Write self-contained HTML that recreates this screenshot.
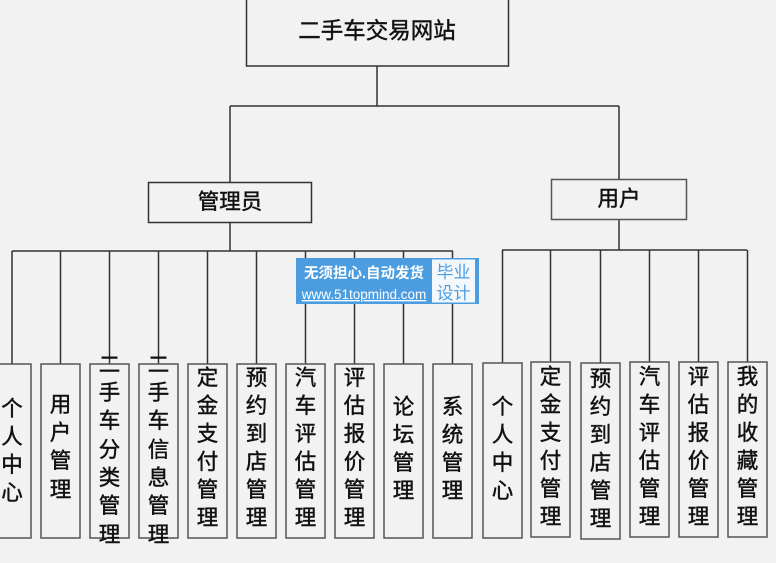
<!DOCTYPE html>
<html><head><meta charset="utf-8"><style>
html,body{margin:0;padding:0;background:#f2f2f2;}
svg{display:block;}
.t{font-family:"Liberation Sans","Noto Sans CJK SC",sans-serif;fill:#111;stroke:#111;stroke-width:0.45;}
</style></head><body>
<svg width="776" height="563" viewBox="0 0 776 563" xmlns="http://www.w3.org/2000/svg">
<rect width="776" height="563" fill="#f2f2f2"/>
<g fill="none" stroke="#333" stroke-width="1.5">
<line x1="377" y1="66" x2="377" y2="106"/>
<line x1="230" y1="106" x2="619" y2="106"/>
<line x1="230" y1="106" x2="230" y2="182"/>
<line x1="619" y1="106" x2="619" y2="179"/>
<line x1="230" y1="223" x2="230" y2="251"/>
<line x1="12" y1="251" x2="453" y2="251"/>
<line x1="12" y1="251" x2="12" y2="364"/>
<line x1="60.5" y1="251" x2="60.5" y2="364"/>
<line x1="109.5" y1="251" x2="109.5" y2="364"/>
<line x1="158.5" y1="251" x2="158.5" y2="364"/>
<line x1="207.5" y1="251" x2="207.5" y2="364"/>
<line x1="256.5" y1="251" x2="256.5" y2="364"/>
<line x1="305.5" y1="251" x2="305.5" y2="364"/>
<line x1="354.5" y1="251" x2="354.5" y2="364"/>
<line x1="403.5" y1="251" x2="403.5" y2="364"/>
<line x1="452.5" y1="251" x2="452.5" y2="364"/>
<line x1="619" y1="220" x2="619" y2="250"/>
<line x1="502" y1="250" x2="747" y2="250"/>
<line x1="502.5" y1="250" x2="502.5" y2="363"/>
<line x1="550.5" y1="250" x2="550.5" y2="362"/>
<line x1="600.5" y1="250" x2="600.5" y2="363"/>
<line x1="649.5" y1="250" x2="649.5" y2="362"/>
<line x1="698.5" y1="250" x2="698.5" y2="362"/>
<line x1="747.5" y1="250" x2="747.5" y2="362"/>
</g>
<g fill="#f2f2f2" stroke="#555" stroke-width="1.5">
<rect x="246.5" y="-2" width="262" height="68" stroke="#333"/>
<rect x="148.5" y="182.5" width="163" height="40" stroke="#333"/>
<rect x="551.5" y="179.5" width="135" height="40"/>
<rect x="-7.5" y="364" width="38.5" height="174"/>
<rect x="41" y="364" width="39" height="174"/>
<rect x="90" y="364" width="39" height="174"/>
<rect x="139" y="364" width="39" height="174"/>
<rect x="188" y="364" width="39" height="174"/>
<rect x="237" y="364" width="39" height="174"/>
<rect x="286" y="364" width="39" height="174"/>
<rect x="335" y="364" width="39" height="174"/>
<rect x="384" y="364" width="39" height="174"/>
<rect x="433" y="364" width="39" height="174"/>
<rect x="483" y="363" width="39" height="175"/>
<rect x="531" y="362" width="39" height="175"/>
<rect x="581" y="363" width="39" height="176"/>
<rect x="630" y="362" width="39" height="175"/>
<rect x="679" y="362" width="39" height="175"/>
<rect x="728" y="362" width="39" height="175"/>
</g>
<g class="t" text-anchor="middle" dominant-baseline="central">
<text x="377" y="31" font-size="22.5">二手车交易网站</text>
<text x="230" y="202" font-size="21.5">管理员</text>
<text x="619" y="199" font-size="21.5">用户</text>
</g>
<g class="t" text-anchor="middle" dominant-baseline="central" font-size="21.5">
<text><tspan x="12" y="409">个</tspan><tspan x="12" y="437">人</tspan><tspan x="12" y="465">中</tspan><tspan x="12" y="493">心</tspan></text>
<text><tspan x="60.5" y="405">用</tspan><tspan x="60.5" y="433">户</tspan><tspan x="60.5" y="461">管</tspan><tspan x="60.5" y="490">理</tspan></text>
<text><tspan x="109.5" y="365">二</tspan><tspan x="109.5" y="393">手</tspan><tspan x="109.5" y="421">车</tspan><tspan x="109.5" y="450">分</tspan><tspan x="109.5" y="478">类</tspan><tspan x="109.5" y="506">管</tspan><tspan x="109.5" y="535">理</tspan></text>
<text><tspan x="158.5" y="365">二</tspan><tspan x="158.5" y="393">手</tspan><tspan x="158.5" y="421">车</tspan><tspan x="158.5" y="450">信</tspan><tspan x="158.5" y="478">息</tspan><tspan x="158.5" y="506">管</tspan><tspan x="158.5" y="535">理</tspan></text>
<text><tspan x="207.5" y="378">定</tspan><tspan x="207.5" y="406">金</tspan><tspan x="207.5" y="434">支</tspan><tspan x="207.5" y="462">付</tspan><tspan x="207.5" y="490">管</tspan><tspan x="207.5" y="518">理</tspan></text>
<text><tspan x="256.5" y="378">预</tspan><tspan x="256.5" y="406">约</tspan><tspan x="256.5" y="434">到</tspan><tspan x="256.5" y="462">店</tspan><tspan x="256.5" y="490">管</tspan><tspan x="256.5" y="518">理</tspan></text>
<text><tspan x="305.5" y="378">汽</tspan><tspan x="305.5" y="406">车</tspan><tspan x="305.5" y="434">评</tspan><tspan x="305.5" y="462">估</tspan><tspan x="305.5" y="490">管</tspan><tspan x="305.5" y="518">理</tspan></text>
<text><tspan x="354.5" y="378">评</tspan><tspan x="354.5" y="406">估</tspan><tspan x="354.5" y="434">报</tspan><tspan x="354.5" y="462">价</tspan><tspan x="354.5" y="490">管</tspan><tspan x="354.5" y="518">理</tspan></text>
<text><tspan x="403.5" y="407">论</tspan><tspan x="403.5" y="435">坛</tspan><tspan x="403.5" y="463">管</tspan><tspan x="403.5" y="491">理</tspan></text>
<text><tspan x="452.5" y="407">系</tspan><tspan x="452.5" y="435">统</tspan><tspan x="452.5" y="463">管</tspan><tspan x="452.5" y="491">理</tspan></text>
<text><tspan x="502.5" y="407">个</tspan><tspan x="502.5" y="435">人</tspan><tspan x="502.5" y="463">中</tspan><tspan x="502.5" y="491">心</tspan></text>
<text><tspan x="550.5" y="377">定</tspan><tspan x="550.5" y="405">金</tspan><tspan x="550.5" y="433">支</tspan><tspan x="550.5" y="461">付</tspan><tspan x="550.5" y="489">管</tspan><tspan x="550.5" y="517">理</tspan></text>
<text><tspan x="600.5" y="379">预</tspan><tspan x="600.5" y="407">约</tspan><tspan x="600.5" y="435">到</tspan><tspan x="600.5" y="463">店</tspan><tspan x="600.5" y="491">管</tspan><tspan x="600.5" y="519">理</tspan></text>
<text><tspan x="649.5" y="377">汽</tspan><tspan x="649.5" y="405">车</tspan><tspan x="649.5" y="433">评</tspan><tspan x="649.5" y="461">估</tspan><tspan x="649.5" y="489">管</tspan><tspan x="649.5" y="517">理</tspan></text>
<text><tspan x="698.5" y="377">评</tspan><tspan x="698.5" y="405">估</tspan><tspan x="698.5" y="433">报</tspan><tspan x="698.5" y="461">价</tspan><tspan x="698.5" y="489">管</tspan><tspan x="698.5" y="517">理</tspan></text>
<text><tspan x="747.5" y="377">我</tspan><tspan x="747.5" y="405">的</tspan><tspan x="747.5" y="433">收</tspan><tspan x="747.5" y="461">藏</tspan><tspan x="747.5" y="489">管</tspan><tspan x="747.5" y="517">理</tspan></text>
</g>
<rect x="296" y="258" width="183" height="46" fill="#4c9de0"/>
<rect x="432" y="259.5" width="43" height="43" fill="#f4f8fc"/>
<text x="364" y="278" text-anchor="middle" font-size="14.5" font-weight="bold" fill="#fff" font-family="Liberation Sans, Noto Sans CJK SC, sans-serif">无须担心.自动发货</text>
<text x="364" y="299" text-anchor="middle" font-size="13.5" fill="#fff" text-decoration="underline" font-family="Liberation Sans, Noto Sans CJK SC, sans-serif">www.51topmind.com</text>
<text x="453.5" y="278" text-anchor="middle" font-size="17" fill="#4c9de0" font-family="Liberation Sans, Noto Sans CJK SC, sans-serif">毕业</text>
<text x="453.5" y="299" text-anchor="middle" font-size="17" fill="#4c9de0" font-family="Liberation Sans, Noto Sans CJK SC, sans-serif">设计</text>
</svg>
</body></html>
